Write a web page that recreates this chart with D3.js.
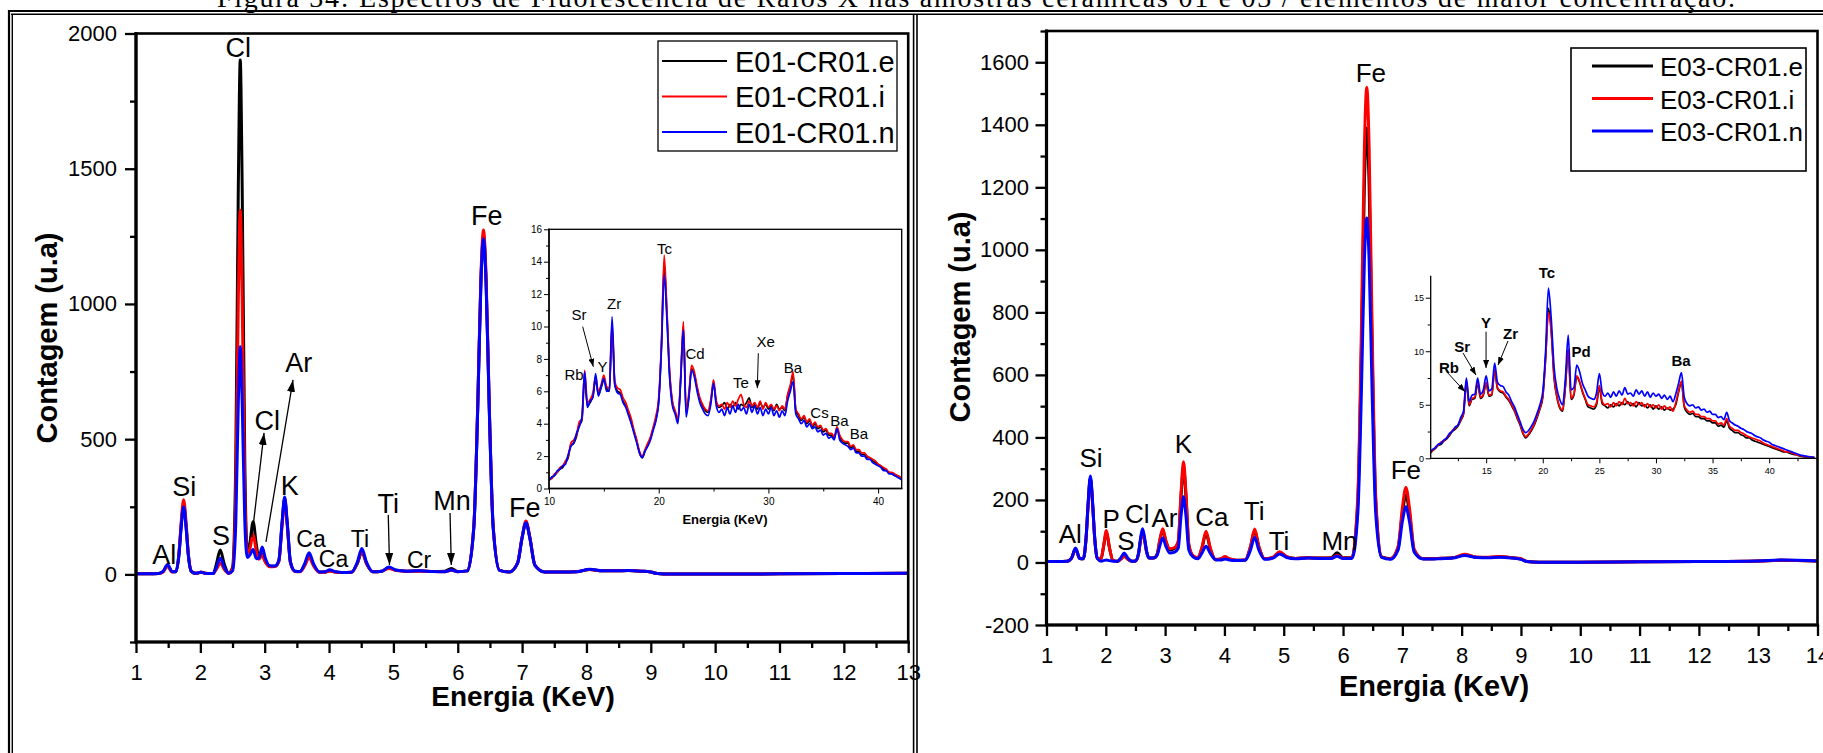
<!DOCTYPE html>
<html>
<head>
<meta charset="utf-8">
<title>Espectros de Fluorescência de Raios X</title>
<script src="https://d3js.org/d3.v7.min.js"></script>
<style>
    body { margin: 0; background-color: #ffffff; }
    svg text { font-family: "Liberation Sans", Arial, sans-serif; fill: #000; }
</style>
</head>
<body>
<script>
// ---- main spectra (energy in keV, counts in u.a) ----
const mainEnergy = [1.00,1.20,1.35,1.42,1.49,1.56,1.62,1.67,1.70,1.74,1.78,1.81,1.86,1.92,1.96,2.01,2.06,2.12,2.20,2.25,
    2.31,2.37,2.44,2.50,2.55,2.59,2.62,2.65,2.69,2.73,2.77,2.82,2.87,2.91,2.96,3.01,3.08,3.16,3.22,3.27,
    3.31,3.35,3.40,3.47,3.55,3.62,3.69,3.76,3.85,3.94,4.01,4.08,4.20,4.35,4.44,4.51,4.58,4.68,4.82,4.93,
    5.05,5.20,5.41,5.60,5.80,5.90,6.00,6.15,6.25,6.31,6.36,6.40,6.44,6.49,6.55,6.65,6.80,6.93,7.00,7.06,
    7.12,7.20,7.35,7.60,7.85,8.05,8.25,8.45,8.65,8.85,9.00,9.10,9.30,10.0,11.0,12.0,13.0,13.4,14.0];

const e01e = [2,2,3,10,32,10,10,81,175,259,175,81,11,4,5,8,5,3,3,39,
    90,39,5,25,414,1435,1902,1435,430,84,117,195,109,62,75,48,30,30,50,189,
    280,189,45,12,11,35,70,35,9,9,14,10,7,8,41,83,41,10,12,24,
    15,12,13,11,12,22,11,13,176,614,1087,1253,1087,614,176,15,9,42,136,193,
    136,33,9,9,10,18,13,13,14,12,9,3,1,1,2,3,4,5,5];
const e01i = [2,2,3,9,30,9,11,86,186,276,186,86,12,4,5,9,5,3,3,19,
    42,19,4,19,295,1016,1347,1016,311,78,95,148,86,56,70,45,28,29,48,180,
    270,180,42,11,10,31,62,31,8,8,12,9,7,8,42,85,42,10,12,22,
    14,12,12,11,10,15,10,13,179,624,1105,1273,1105,624,181,15,9,43,138,197,
    138,34,9,9,10,18,13,13,14,12,9,3,1,1,2,3,4,5,5];
const e01n = [2,2,3,11,37,11,10,78,168,249,168,78,11,4,5,8,5,3,3,27,
    60,27,4,13,186,636,842,636,202,62,72,92,58,60,101,60,32,31,52,192,
    286,192,46,12,11,39,80,39,9,10,17,11,7,8,46,96,46,10,12,27,
    15,12,13,11,10,16,10,13,174,608,1076,1240,1076,608,176,15,9,42,135,191,
    135,33,9,9,10,19,13,13,14,12,9,3,1,1,2,3,4,5,5];

const e03e = [3,3,4,13,43,13,12,84,180,270,180,84,12,12,48,97,48,7,4,11,
    21,11,4,5,26,76,100,76,32,14,14,15,29,69,103,69,40,45,63,215,
    305,215,55,20,14,45,93,45,9,11,17,11,7,8,50,101,50,12,16,32,
    18,13,15,14,15,31,15,16,198,684,1208,1390,1208,684,198,18,12,48,158,215,
    158,38,12,13,15,24,17,16,18,15,11,3,1,1,2,3,5,7,5];
const e03i = [3,3,4,13,43,13,12,84,178,267,178,84,12,12,50,102,50,7,4,10,
    19,10,4,5,26,76,100,76,32,14,14,15,30,72,108,72,44,48,68,228,
    322,228,58,22,15,48,100,48,10,12,19,12,7,8,52,107,52,12,17,34,
    19,13,15,14,14,23,14,15,217,751,1328,1520,1328,751,217,18,12,52,174,240,
    174,42,12,13,15,26,17,17,19,15,12,3,1,1,2,3,5,7,5];
const e03n = [3,3,4,13,46,13,12,87,184,277,184,87,12,4,6,8,6,4,4,14,
    30,14,4,5,28,83,108,83,34,14,14,15,25,53,78,53,30,33,45,152,
    210,152,40,18,12,30,52,30,9,8,11,8,6,7,40,80,40,10,14,27,
    16,12,14,13,13,20,13,13,160,548,966,1102,966,548,160,16,10,41,131,178,
    131,33,11,12,14,22,16,15,17,14,10,3,1,1,2,3,5,8,5];

// ---- inset spectra (10-44 keV) ----
const insetEnergy = [10,10.25,10.5,10.75,11,11.25,11.5,11.75,12,12.25,
    12.5,12.75,13,13.25,13.5,13.75,14,14.25,14.5,14.75,
    15,15.25,15.5,15.75,16,16.25,16.5,16.75,17,17.25,
    17.5,17.75,18,18.25,18.5,18.75,19,19.25,19.5,19.75,
    20,20.25,20.5,20.75,21,21.25,21.5,21.75,22,22.25,
    22.5,22.75,23,23.25,23.5,23.75,24,24.25,24.5,24.75,
    25,25.25,25.5,25.75,26,26.25,26.5,26.75,27,27.25,
    27.5,27.75,28,28.25,28.5,28.75,29,29.25,29.5,29.75,
    30,30.25,30.5,30.75,31,31.25,31.5,31.75,32,32.25,
    32.5,32.75,33,33.25,33.5,33.75,34,34.25,34.5,34.75,
    35,35.25,35.5,35.75,36,36.25,36.5,36.75,37,37.25,
    37.5,37.75,38,38.25,38.5,38.75,39,39.25,39.5,39.75,
    40,40.25,40.5,40.75,41,41.25,41.5,41.75,42,42.25,
    42.5,42.75,43,43.25,43.5,43.75,44];

const e01eIn = [0.5,0.7,0.8,1.0,1.2,1.3,1.6,1.9,2.7,2.8,
    3.2,3.9,4.2,6.8,5.1,5.3,5.7,6.7,5.8,6.2,
    6.7,6.2,6.0,9.9,6.4,6.0,5.9,5.4,5.1,4.7,
    4.1,3.5,2.9,2.2,1.9,2.3,2.7,3.1,3.7,4.3,
    5.4,8.8,13.8,10.8,7.0,5.3,4.7,4.2,6.7,10.0,
    4.7,5.7,7.4,7.0,6.2,5.5,5.1,4.8,4.7,5.4,
    6.5,5.3,5.0,5.1,5.3,4.9,5.2,5.0,5.3,4.9,
    5.2,5.1,5.3,5.6,5.0,5.2,4.9,5.3,5.0,5.2,
    4.9,5.1,4.8,5.2,4.9,5.0,4.8,5.7,6.3,7.0,
    4.8,4.5,4.2,4.4,4.0,4.2,3.8,4.0,3.7,3.8,
    3.5,3.6,3.3,3.3,3.1,3.7,3.2,2.9,2.8,2.8,
    2.5,2.6,2.3,2.3,2.1,2.1,1.9,1.9,1.7,1.6,
    1.5,1.4,1.2,1.1,1.0,0.9,0.8,0.8,0.7,0.6,
    0.5,0.4,0.4,0.3,0.2,0.2,0.1];
const e01iIn = [0.6,0.6,0.9,1.0,1.3,1.4,1.7,2.0,2.8,3.0,
    3.3,4.1,4.3,7.3,5.3,5.5,5.9,6.9,6.0,6.4,
    7.0,6.3,6.2,10.2,6.6,6.2,6.1,5.6,5.3,4.8,
    4.3,3.6,3.0,2.3,2.0,2.4,2.8,3.2,3.8,4.5,
    5.6,9.0,14.4,11.0,7.2,5.4,4.8,4.3,6.9,10.3,
    4.8,5.9,7.6,7.2,6.3,5.6,5.2,4.9,4.8,5.5,
    6.7,5.4,5.1,5.2,4.9,5.3,5.0,5.4,5.1,5.5,
    5.8,5.2,5.0,5.4,5.1,5.3,5.0,5.4,4.9,5.3,
    5.0,5.2,4.9,5.1,4.8,5.1,4.9,5.8,6.4,7.2,
    4.9,4.6,4.3,4.5,4.1,4.3,3.9,4.1,3.8,3.9,
    3.6,3.7,3.4,3.4,3.2,3.8,3.3,3.0,2.9,2.9,
    2.6,2.7,2.4,2.4,2.2,2.2,2.0,1.9,1.8,1.7,
    1.5,1.4,1.3,1.2,1.0,1.0,0.9,0.8,0.7,0.6,
    0.6,0.5,0.4,0.3,0.3,0.2,0.2];
const e01nIn = [0.5,0.7,0.8,1.1,1.2,1.4,1.5,2.1,2.6,2.8,
    3.4,3.8,4.4,7.2,5.0,5.4,5.6,7.1,5.7,6.3,
    6.8,6.0,6.1,10.6,6.4,5.9,5.8,5.3,5.0,4.5,
    4.0,3.4,2.8,2.2,1.9,2.3,2.6,3.0,3.6,4.2,
    5.3,8.6,13.2,10.4,6.8,5.1,4.6,4.0,6.6,9.8,
    4.4,5.6,7.3,6.9,6.0,5.3,4.9,4.6,4.5,5.2,
    6.5,5.1,4.7,4.9,4.5,5.0,4.6,5.1,4.7,5.2,
    4.8,5.0,4.6,5.2,4.7,5.1,4.6,5.0,4.5,4.9,
    4.6,5.0,4.5,4.8,4.4,4.8,4.5,5.4,6.0,6.6,
    4.6,4.3,4.0,4.2,3.8,4.0,3.7,3.8,3.5,3.6,
    3.3,3.4,3.1,3.2,3.0,3.7,3.0,2.8,2.7,2.6,
    2.4,2.5,2.2,2.2,2.0,2.0,1.8,1.8,1.6,1.5,
    1.4,1.3,1.1,1.1,0.9,0.9,0.8,0.7,0.6,0.5,
    0.5,0.4,0.3,0.3,0.2,0.2,0.1];

const e03eIn = [0.4,0.7,0.9,1.2,1.3,1.6,1.8,2.1,2.5,2.7,
    3.0,3.5,4.1,7.0,4.9,5.5,5.6,7.0,5.6,5.9,
    7.0,5.8,5.9,8.2,6.5,6.2,6.1,5.7,5.4,4.9,
    4.4,3.7,3.1,2.3,1.9,2.2,2.6,3.1,3.8,4.6,
    5.7,9.4,14.0,11.9,7.5,5.7,4.7,4.4,6.7,10.0,
    5.5,5.9,7.6,7.1,6.2,5.5,4.8,4.7,4.6,5.0,
    6.6,5.1,4.9,4.7,5.0,4.8,5.1,4.9,5.2,5.0,
    5.3,4.9,5.1,4.8,5.2,4.9,5.0,4.7,5.0,4.6,
    4.9,4.6,4.8,4.5,4.7,4.5,4.6,5.0,6.2,7.1,
    4.8,4.3,4.1,4.2,3.9,3.9,3.7,3.7,3.5,3.5,
    3.3,3.3,3.0,3.1,2.9,3.5,2.8,2.6,2.4,2.4,
    2.2,2.1,1.9,1.9,1.7,1.6,1.5,1.4,1.3,1.2,
    1.1,1.0,0.9,0.8,0.7,0.6,0.6,0.5,0.4,0.35,
    0.3,0.2,0.15,0.12,0.1,0.08,0.05];
const e03iIn = [0.5,0.7,1.0,1.2,1.5,1.6,1.9,2.2,2.6,2.8,
    3.1,3.6,4.2,7.3,5.0,5.6,5.7,7.2,5.7,6.0,
    7.1,5.9,6.0,8.3,6.6,6.3,6.2,5.8,5.5,5.0,
    4.5,3.8,3.2,2.4,2.0,2.3,2.7,3.2,3.9,4.7,
    5.8,9.2,13.6,11.8,7.6,5.8,4.8,4.5,6.8,10.2,
    5.6,6.0,7.7,7.2,6.3,5.6,5.0,4.9,4.8,5.2,
    6.8,5.3,5.0,5.1,4.8,5.2,4.9,5.3,5.0,5.6,
    5.1,5.2,4.9,5.3,5.0,5.2,4.8,5.1,4.8,5.0,
    4.7,5.0,4.6,4.9,4.6,4.8,4.4,5.2,6.3,7.2,
    4.9,4.5,4.3,4.4,4.1,4.1,3.9,3.9,3.7,3.7,
    3.5,3.5,3.2,3.3,3.1,3.7,3.0,2.8,2.6,2.6,
    2.4,2.3,2.1,2.0,1.9,1.8,1.7,1.6,1.4,1.3,
    1.2,1.1,1.0,0.9,0.8,0.7,0.6,0.6,0.5,0.4,
    0.3,0.25,0.2,0.15,0.1,0.1,0.1];
const e03nIn = [0.5,0.8,1.0,1.3,1.4,1.7,1.9,2.3,2.5,2.9,
    3.1,3.8,4.4,7.5,5.3,5.9,6.0,7.5,6.0,6.4,
    7.7,6.3,6.5,8.9,7.1,6.8,6.7,6.2,5.9,5.3,
    4.8,4.1,3.4,2.7,2.4,2.6,3.0,3.5,4.2,5.0,
    6.2,10.0,15.9,13.0,8.5,6.5,5.5,5.0,7.5,11.5,
    6.4,6.6,8.7,8.1,7.0,6.4,5.8,5.6,5.5,6.1,
    7.9,6.2,5.8,6.1,5.7,6.2,5.8,6.3,5.9,6.6,
    6.0,6.1,5.8,6.4,6.0,6.3,5.8,6.2,5.7,6.1,
    5.8,6.0,5.6,5.9,5.5,5.8,5.3,6.0,7.0,8.0,
    5.7,5.1,4.9,5.0,4.7,4.8,4.5,4.6,4.3,4.4,
    4.1,4.1,3.8,3.9,3.6,4.3,3.5,3.3,3.1,3.0,
    2.8,2.7,2.5,2.4,2.3,2.1,2.0,1.9,1.7,1.6,
    1.5,1.3,1.2,1.1,1.0,0.9,0.8,0.7,0.6,0.5,
    0.4,0.3,0.25,0.2,0.15,0.12,0.1];

// ---- series names / colours ----
const e01Names = ["E01-CR01.e", "E01-CR01.i", "E01-CR01.n"];
const e03Names = ["E03-CR01.e", "E03-CR01.i", "E03-CR01.n"];
const seriesColors = ["#000000", "#ff0000", "#0000ff"];

// ---- ticks ----
const e01XTicks = [1,2,3,4,5,6,7,8,9,10,11,12,13];
const e01XMinor = [1.5,2.5,3.5,4.5,5.5,6.5,7.5,8.5,9.5,10.5,11.5,12.5];
const e01YTicks = [0,500,1000,1500,2000];
const e01YMinor = [-250,250,750,1250,1750];
const e03XTicks = [1,2,3,4,5,6,7,8,9,10,11,12,13,14];
const e03XMinor = [1.5,2.5,3.5,4.5,5.5,6.5,7.5,8.5,9.5,10.5,11.5,12.5,13.5];
const e03YTicks = [-200,0,200,400,600,800,1000,1200,1400,1600];
const e03YMinor = [-100,100,300,500,700,900,1100,1300,1500,1700];
const inset1XTicks = [10,20,30,40];
const inset1XMinor = [15,25,35];
const inset1YTicks = [0,2,4,6,8,10,12,14,16];
const inset1YMinor = [1,3,5,7,9,11,13,15];
const inset3XTicks = [15,20,25,30,35,40];
const inset3XMinor = [12.5,17.5,22.5,27.5,32.5,37.5,42.5];
const inset3YTicks = [0,5,10,15];
const inset3YMinor = [2.5,7.5,12.5];

// ---- peak labels: [text, energy, count] ----
const e01Labels = [["Cl",2.59,1913],["Fe",6.45,1292],["Al",1.44,38],["Si",1.75,290],["S",2.32,109],
    ["Cl",3.04,534],["Ar",3.53,748],["K",3.39,294],["Ti",4.92,227],["Mn",5.91,238],["Fe",7.04,213]];
const e01SmallLabels = [["Ca",3.72,101],["Ca",4.07,28],["Ti",4.48,102],["Cr",5.40,24]];
const e01Arrows = [[2.80,138,2.99,523],[3.02,120,3.44,719],[4.92,220,4.94,35],[5.88,227,5.90,35]];
const e03Labels = [["Fe",6.47,1537],["Al",1.40,62],["Si",1.75,305],["P",2.09,110],["S",2.34,40],
    ["Cl",2.53,126],["Ar",2.99,114],["K",3.31,350],["Ca",3.79,117],["Ti",4.50,136],["Ti",4.92,40],
    ["Mn",5.94,40],["Fe",7.06,267]];
const inset1Labels = [["Sr",12.73,10.4],["Rb",12.28,6.7],["Y",14.88,7.2],["Zr",15.93,11.1],["Tc",20.53,14.5],
    ["Cd",23.31,8.0],["Te",27.5,6.2],["Xe",29.74,8.75],["Ba",32.24,7.1],["Cs",34.66,4.37],
    ["Ba",36.48,3.88],["Ba",38.26,3.06]];
const inset1Arrows = [[13.07,9.99,14.04,7.52],[29.08,8.35,28.99,6.19]];
const inset3Labels = [["Rb",11.72,7.94],["Sr",12.87,9.96],["Y",14.99,12.17],["Zr",17.15,11.14],
    ["Tc",20.37,16.81],["Pd",23.38,9.46],["Ba",32.21,8.62]];
const inset3Arrows = [[11.51,8.09,13.13,6.22],[12.95,9.84,14.1,7.78],[14.99,11.83,14.99,8.43],[16.93,10.96,16.05,8.71]];

const caption = "Figura 34: Espectros de Fluorescência de Raios X nas amostras cerâmicas 01 e 03 / elementos de maior concentração.";

// ------------------------------------------------------------------
const svg = d3.select("body").append("svg")
    .attr("width", 1823)
    .attr("height", 753);
const defs = svg.append("defs");

function addMarker(id, len, wid) {
    defs.append("marker")
        .attr("id", id)
        .attr("viewBox", `0 0 ${len} ${wid}`)
        .attr("refX", len).attr("refY", wid / 2)
        .attr("markerWidth", len).attr("markerHeight", wid)
        .attr("markerUnits", "userSpaceOnUse")
        .attr("orient", "auto")
        .append("path")
        .attr("d", `M0,0L${len},${wid / 2}L0,${wid}Z`)
        .attr("fill", "#000");
}
addMarker("head-big", 12, 8);
addMarker("head-small", 8, 6);

// page frame (table borders) and caption, cut at the top as in the scan
svg.append("text")
    .attr("x", 217).attr("y", 6.5)
    .attr("textLength", 1518)
    .style("font-family", "'Liberation Serif', 'Times New Roman', serif")
    .style("font-size", "28px")
    .text(caption);

const frame = svg.append("g").attr("stroke", "#000");
frame.append("line").attr("x1", 8).attr("x2", 1823).attr("y1", 11).attr("y2", 11).attr("stroke-width", 2);
frame.append("line").attr("x1", 11).attr("x2", 1823).attr("y1", 14.3).attr("y2", 14.3).attr("stroke-width", 1.4);
frame.append("line").attr("x1", 9).attr("x2", 9).attr("y1", 10).attr("y2", 753).attr("stroke-width", 2.2);
frame.append("line").attr("x1", 12.3).attr("x2", 12.3).attr("y1", 14).attr("y2", 753).attr("stroke-width", 1.4);
frame.append("line").attr("x1", 913.6).attr("x2", 913.6).attr("y1", 14).attr("y2", 753).attr("stroke-width", 1.6);
frame.append("line").attr("x1", 917).attr("x2", 917).attr("y1", 14).attr("y2", 753).attr("stroke-width", 1.6);

function styleAxis(sel, c) {
    sel.select(".domain").remove();
    sel.attr("font-family", "'Liberation Sans', Arial, sans-serif")
        .attr("font-size", c.tickFont);
    sel.selectAll(".tick line").attr("stroke", "#000").attr("stroke-width", c.tickWidth);
    sel.selectAll(".tick text").attr("fill", "#000");
}

function drawSpectrum(c) {
    const x = d3.scaleLinear().domain(c.xDomain).range(c.xRange);
    const y = d3.scaleLinear().domain(c.yDomain).range(c.yRange);
    const [x0, x1] = c.xRange;
    const [yB, yT] = c.yRange;
    const g = svg.append("g");

    defs.append("clipPath").attr("id", c.id)
        .append("rect")
        .attr("x", x0).attr("y", yT)
        .attr("width", x1 - x0).attr("height", yB - yT);

    const line = d3.line()
        .x((d, i) => x(c.energy[i]))
        .y(d => y(d))
        .curve(d3.curveMonotoneX);

    g.append("g").attr("clip-path", `url(#${c.id})`)
        .selectAll("path")
        .data(c.series)
        .join("path")
        .attr("d", line)
        .attr("fill", "none")
        .attr("stroke", (d, i) => seriesColors[i])
        .attr("stroke-width", c.lineWidth)
        .attr("stroke-linejoin", "round");

    // minor + major ticks
    g.append("g").attr("transform", `translate(0,${yB})`)
        .call(d3.axisBottom(x).tickValues(c.xMinor).tickSize(c.minorLen).tickFormat(""))
        .call(styleAxis, c);
    g.append("g").attr("transform", `translate(0,${yB})`)
        .call(d3.axisBottom(x).tickValues(c.xTicks).tickSize(c.majorLen).tickPadding(c.xPad).tickFormat(d => String(d)))
        .call(styleAxis, c);
    g.append("g").attr("transform", `translate(${x0},0)`)
        .call(d3.axisLeft(y).tickValues(c.yMinor).tickSize(c.minorLen).tickFormat(""))
        .call(styleAxis, c);
    g.append("g").attr("transform", `translate(${x0},0)`)
        .call(d3.axisLeft(y).tickValues(c.yTicks).tickSize(c.majorLen).tickPadding(c.yPad).tickFormat(d => String(d)))
        .call(styleAxis, c);

    // frame
    if (c.box) {
        g.append("rect")
            .attr("x", x0).attr("y", yT)
            .attr("width", x1 - x0).attr("height", yB - yT)
            .attr("fill", "none").attr("stroke", "#000")
            .attr("stroke-width", c.frameWidth);
    }
    g.append("path")
        .attr("d", `M${x0},${yT}V${yB}H${x1}`)
        .attr("fill", "none").attr("stroke", "#000")
        .attr("stroke-width", c.axisWidth)
        .attr("stroke-linecap", "square");

    // peak labels
    c.labelSets.forEach(set => {
        g.append("g")
            .selectAll("text")
            .data(set.rows)
            .join("text")
            .attr("x", d => x(d[1]))
            .attr("y", d => y(d[2]))
            .attr("text-anchor", "middle")
            .style("font-size", set.size + "px")
            .style("font-weight", set.weight || "normal")
            .text(d => d[0]);
    });

    // arrows
    g.append("g")
        .selectAll("line")
        .data(c.arrows)
        .join("line")
        .attr("x1", d => x(d[0])).attr("y1", d => y(d[1]))
        .attr("x2", d => x(d[2])).attr("y2", d => y(d[3]))
        .attr("stroke", "#000")
        .attr("stroke-width", c.arrowWidth)
        .attr("marker-end", `url(#${c.arrowHead})`);

    return { x, y, g };
}

function drawLegend(L, names) {
    const g = svg.append("g");
    g.append("rect")
        .attr("x", L.x).attr("y", L.y)
        .attr("width", L.w).attr("height", L.h)
        .attr("fill", "#fff").attr("stroke", "#000")
        .attr("stroke-width", L.border);
    const rows = g.selectAll("g.row")
        .data(names)
        .join("g")
        .attr("class", "row")
        .attr("transform", (d, i) => `translate(0,${L.firstRow + i * L.rowGap})`);
    rows.append("line")
        .attr("x1", L.lineX0).attr("x2", L.lineX1)
        .attr("stroke", (d, i) => seriesColors[i])
        .attr("stroke-width", L.lineWidth);
    rows.append("text")
        .attr("x", L.textX).attr("y", L.baseline)
        .style("font-size", L.font + "px")
        .text(d => d);
}

function axisTitle(x, y, text, size, rotate) {
    svg.append("text")
        .attr("transform", `translate(${x},${y})` + (rotate ? " rotate(-90)" : ""))
        .attr("text-anchor", "middle")
        .style("font-size", size + "px")
        .style("font-weight", "bold")
        .text(text);
}

// ---- left panel: E01 ----
drawSpectrum({
    id: "clip-e01", energy: mainEnergy, series: [e01e, e01i, e01n],
    xDomain: [1, 13], xRange: [136, 908.2],
    yDomain: [-250, 2000], yRange: [642, 33.5],
    xTicks: e01XTicks, xMinor: e01XMinor, yTicks: e01YTicks, yMinor: e01YMinor,
    majorLen: 11, minorLen: 6, tickWidth: 2.3, tickFont: 22, xPad: 11, yPad: 8,
    lineWidth: 3, box: true, frameWidth: 2.6, axisWidth: 3.2,
    labelSets: [{ rows: e01Labels, size: 27 }, { rows: e01SmallLabels, size: 23 }],
    arrows: e01Arrows, arrowWidth: 1.3, arrowHead: "head-big"
});
axisTitle(57, 338, "Contagem (u.a)", 29, true);
axisTitle(523, 706, "Energia (KeV)", 28, false);
drawLegend({ x: 658, y: 41, w: 239, h: 110, border: 1.3, firstRow: 61, rowGap: 35.5,
    lineX0: 662, lineX1: 727, lineWidth: 2.2, textX: 735, baseline: 10.5, font: 29 }, e01Names);

// left inset
drawSpectrum({
    id: "clip-in1", energy: insetEnergy, series: [e01eIn, e01iIn, e01nIn],
    xDomain: [10, 42.15], xRange: [549, 901.7],
    yDomain: [0, 16], yRange: [488.5, 229.3],
    xTicks: inset1XTicks, xMinor: inset1XMinor, yTicks: inset1YTicks, yMinor: inset1YMinor,
    majorLen: 5, minorLen: 3, tickWidth: 1, tickFont: 10, xPad: 4.4, yPad: 2,
    lineWidth: 1.7, box: true, frameWidth: 1.3, axisWidth: 1.4,
    labelSets: [{ rows: inset1Labels, size: 15 }],
    arrows: inset1Arrows, arrowWidth: 1, arrowHead: "head-small"
});
axisTitle(725, 524, "Energia (KeV)", 13, false);

// ---- right panel: E03 ----
drawSpectrum({
    id: "clip-e03", energy: mainEnergy, series: [e03e, e03i, e03n],
    xDomain: [1, 14], xRange: [1046.5, 1817.5],
    yDomain: [-200, 1700], yRange: [625, 31],
    xTicks: e03XTicks, xMinor: e03XMinor, yTicks: e03YTicks, yMinor: e03YMinor,
    majorLen: 11, minorLen: 6, tickWidth: 2.3, tickFont: 22, xPad: 11, yPad: 6.5,
    lineWidth: 3, box: true, frameWidth: 2.6, axisWidth: 3.2,
    labelSets: [{ rows: e03Labels, size: 26 }],
    arrows: [], arrowWidth: 1.3, arrowHead: "head-big"
});
axisTitle(970, 317, "Contagem (u.a)", 29, true);
axisTitle(1434, 696, "Energia (KeV)", 29, false);
drawLegend({ x: 1571, y: 48, w: 235, h: 123, border: 1.6, firstRow: 66, rowGap: 32.5,
    lineX0: 1592, lineX1: 1653, lineWidth: 3, textX: 1660, baseline: 10, font: 26 }, e03Names);

// right inset (axes only, no box)
drawSpectrum({
    id: "clip-in3", energy: insetEnergy, series: [e03eIn, e03iIn, e03nIn],
    xDomain: [10.1, 44.2], xRange: [1430.7, 1816.7],
    yDomain: [0, 17], yRange: [458.3, 276.3],
    xTicks: inset3XTicks, xMinor: inset3XMinor, yTicks: inset3YTicks, yMinor: inset3YMinor,
    majorLen: 5, minorLen: 3, tickWidth: 1, tickFont: 9, xPad: 4.3, yPad: 1.7,
    lineWidth: 1.7, box: false, frameWidth: 1.2, axisWidth: 1.3,
    labelSets: [{ rows: inset3Labels, size: 15, weight: "bold" }],
    arrows: inset3Arrows, arrowWidth: 1, arrowHead: "head-small"
});
</script>
</body>
</html>
